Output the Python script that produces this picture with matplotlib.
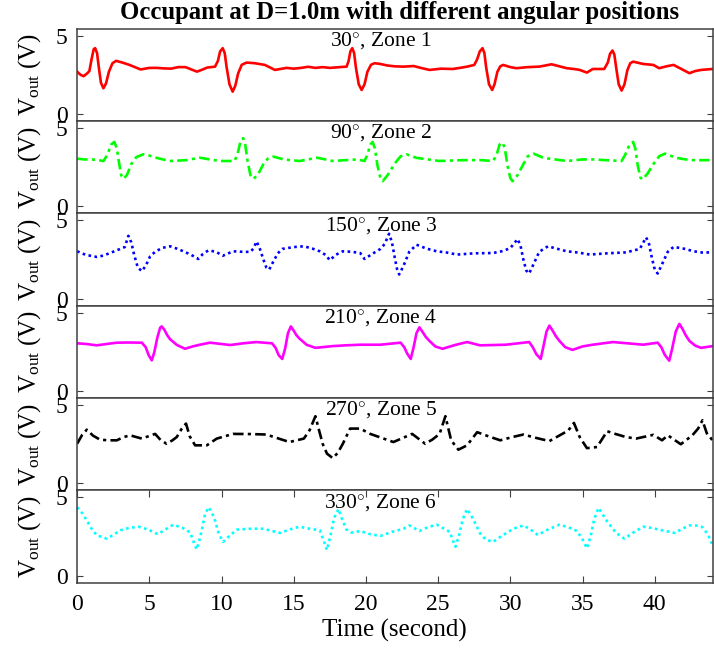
import numpy as np
import matplotlib
matplotlib.use("Agg")
import matplotlib.pyplot as plt

plt.rcParams["font.family"] = ["Liberation Serif", "DejaVu Serif"]
plt.rcParams["mathtext.fontset"] = "custom"
plt.rcParams["mathtext.rm"] = "Liberation Serif"
plt.rcParams["mathtext.it"] = "Liberation Serif:italic"

# --- data: (time s, Vout V) ---
zone1 = [(0, 2.71), (0.25, 2.5), (0.45, 2.42), (0.7, 2.6), (0.85, 2.75), (1.0, 3.5), (1.15, 4.15),
         (1.25, 4.21), (1.38, 3.9), (1.5, 3.0), (1.65, 2.0), (1.82, 1.65), (2.0, 1.95), (2.2, 2.7),
         (2.45, 3.25), (2.7, 3.40), (3.1, 3.3), (3.6, 3.15), (4.4, 2.85), (5.0, 2.95), (5.5, 2.95),
         (6.0, 2.92), (6.5, 2.9), (7.0, 3.0), (7.5, 3.0), (8.3, 2.71), (8.7, 2.85), (9.0, 2.97),
         (9.55, 3.03), (9.75, 3.4), (9.9, 4.0), (10.08, 4.21), (10.22, 3.9), (10.35, 3.0),
         (10.55, 1.9), (10.77, 1.43), (10.95, 1.8), (11.15, 2.6), (11.4, 3.15), (11.74, 3.29),
         (12.3, 3.25), (13.0, 3.14), (13.7, 2.82), (14.5, 2.95), (15.0, 2.9), (15.5, 2.95),
         (16.0, 3.02), (16.5, 2.95), (17.0, 3.0), (17.5, 2.95), (18.2, 3.0), (18.66, 3.03),
         (18.8, 3.4), (18.92, 4.0), (19.05, 4.21), (19.18, 3.9), (19.3, 3.0), (19.5, 1.9),
         (19.7, 1.54), (19.9, 1.9), (20.1, 2.7), (20.35, 3.15), (20.6, 3.25), (21.0, 3.2),
         (21.5, 3.1), (22.0, 3.05), (22.6, 3.03), (23.3, 3.07), (23.8, 2.95), (24.4, 2.82),
         (25.2, 2.9), (26.0, 2.88), (26.5, 2.95), (27.0, 3.03), (27.5, 3.14), (27.7, 3.5),
         (27.88, 4.0), (28.07, 4.21), (28.2, 3.9), (28.32, 3.0), (28.52, 1.9), (28.74, 1.54),
         (28.9, 1.9), (29.1, 2.7), (29.3, 3.05), (29.5, 3.14), (30.0, 3.0), (30.4, 2.93),
         (31.2, 3.0), (32.0, 3.03), (32.85, 3.18), (33.4, 3.05), (33.9, 2.93), (34.4, 2.88),
         (34.8, 2.82), (35.3, 2.65), (35.7, 2.88), (36.5, 2.88), (36.75, 3.3), (36.9, 3.85),
         (37.07, 4.06), (37.2, 3.8), (37.32, 3.0), (37.5, 1.9), (37.7, 1.5), (37.9, 1.9),
         (38.1, 2.8), (38.3, 3.25), (38.5, 3.35), (39.2, 3.2), (39.9, 3.14), (40.3, 2.93),
         (40.8, 3.05), (41.3, 3.14), (41.9, 2.85), (42.4, 2.61), (42.8, 2.75), (43.2, 2.82),
         (44.0, 2.88)]

zone2 = [(0, 3.05), (0.5, 3.0), (1.0, 3.0), (1.5, 2.95), (1.82, 2.9), (2.1, 3.3), (2.35, 3.95),
         (2.58, 4.12), (2.75, 3.7), (2.9, 2.8), (3.05, 2.0), (3.2, 1.76), (3.45, 2.0), (3.75, 2.7),
         (4.1, 3.15), (4.59, 3.33), (5.0, 3.25), (5.5, 3.1), (6.4, 2.9), (7.5, 2.95), (8.5, 3.11),
         (9.2, 3.0), (9.9, 2.9), (10.9, 2.9), (11.1, 3.3), (11.3, 4.1), (11.5, 4.36), (11.65, 3.9),
         (11.8, 2.9), (12.0, 2.0), (12.2, 1.76), (12.5, 2.0), (12.9, 2.7), (13.2, 3.05),
         (13.6, 3.18), (14.3, 3.0), (15.4, 2.9), (16.0, 3.0), (16.6, 3.11), (17.2, 3.0),
         (17.7, 2.9), (18.5, 2.95), (19.4, 3.0), (19.9, 2.9), (20.1, 3.3), (20.3, 3.95),
         (20.46, 4.12), (20.62, 3.7), (20.8, 2.6), (21.0, 1.8), (21.16, 1.61), (21.5, 2.0),
         (22.0, 2.75), (22.4, 3.2), (22.8, 3.33), (23.5, 3.1), (25.1, 2.9), (26.5, 2.95),
         (27.9, 2.96), (28.8, 2.9), (29.05, 3.3), (29.25, 3.95), (29.46, 4.08), (29.62, 3.7),
         (29.8, 2.6), (30.0, 1.8), (30.15, 1.61), (30.5, 2.0), (30.9, 2.7), (31.2, 3.2),
         (31.6, 3.37), (32.3, 3.1), (33.9, 2.9), (35.0, 3.0), (35.7, 3.0), (36.7, 2.95),
         (37.7, 2.9), (37.95, 3.3), (38.25, 3.95), (38.5, 4.12), (38.65, 3.7), (38.82, 2.6),
         (39.0, 1.85), (39.15, 1.72), (39.5, 2.1), (39.9, 2.7), (40.3, 3.2), (40.7, 3.37),
         (41.5, 3.1), (42.4, 2.96), (43.2, 2.95), (44, 2.96)]

zone3 = [(0, 3.03), (0.6, 2.8), (1.36, 2.67), (1.8, 2.75), (2.28, 2.92), (2.98, 3.18), (3.3, 3.3),
         (3.55, 4.02), (3.75, 3.6), (3.95, 2.8), (4.2, 2.0), (4.48, 1.76), (4.75, 2.1), (5.05, 2.7),
         (5.4, 3.0), (5.9, 3.25), (6.44, 3.35), (6.9, 3.2), (7.36, 3.03), (7.9, 2.8), (8.39, 2.54),
         (8.7, 2.85), (9.09, 3.09), (9.6, 3.0), (10.1, 2.75), (10.8, 3.03), (11.4, 3.0),
         (12.0, 2.99), (12.2, 3.2), (12.43, 3.66), (12.65, 3.2), (12.9, 2.5), (13.1, 2.0),
         (13.3, 1.86), (13.6, 2.4), (13.9, 2.9), (14.2, 3.18), (15.0, 3.3), (15.7, 3.35),
         (16.3, 3.2), (16.8, 3.03), (17.2, 2.8), (17.5, 2.46), (17.9, 2.8), (18.4, 3.03),
         (19.0, 3.0), (19.6, 2.92), (19.9, 2.54), (20.5, 2.9), (21.0, 3.18), (21.3, 3.5),
         (21.6, 4.15), (21.8, 3.6), (22.0, 2.6), (22.15, 1.9), (22.3, 1.55), (22.6, 2.1),
         (23.0, 3.0), (23.5, 3.45), (24.2, 3.2), (24.9, 3.03), (25.6, 2.95), (26.3, 2.82),
         (27.5, 2.9), (28.8, 2.92), (29.5, 3.05), (30.0, 3.24), (30.5, 3.81), (30.7, 3.4),
         (30.9, 2.5), (31.1, 1.8), (31.3, 1.61), (31.6, 2.2), (32.0, 3.0), (32.6, 3.35),
         (33.2, 3.2), (33.9, 3.03), (34.7, 2.95), (35.5, 2.82), (36.7, 2.9), (38.0, 2.96),
         (38.96, 3.18), (39.4, 3.92), (39.6, 3.5), (39.8, 2.6), (40.0, 1.85), (40.2, 1.61),
         (40.5, 2.2), (40.9, 3.0), (41.3, 3.31), (42.0, 3.2), (42.7, 3.03), (43.3, 2.95),
         (44, 2.96)]

zone4 = [(0, 3.05), (0.7, 3.0), (1.36, 2.92), (2.0, 3.0), (2.75, 3.09), (3.6, 3.1), (4.48, 3.09),
         (4.75, 2.8), (4.95, 2.3), (5.17, 1.96), (5.35, 2.5), (5.55, 3.4), (5.75, 4.05),
         (5.86, 4.13), (6.05, 3.9), (6.25, 3.55), (6.44, 3.31), (6.9, 2.95), (7.47, 2.7),
         (8.0, 2.85), (8.5, 2.96), (9.2, 3.09), (10.6, 2.94), (11.5, 3.05), (12.4, 3.13),
         (13.5, 3.05), (13.75, 2.75), (13.95, 2.3), (14.2, 2.05), (14.4, 2.7), (14.6, 3.7),
         (14.8, 4.13), (15.0, 3.85), (15.2, 3.55), (15.4, 3.35), (15.9, 2.95), (16.5, 2.76),
         (17.7, 2.87), (18.6, 2.92), (19.6, 2.96), (21.0, 2.96), (22.4, 3.09), (22.65, 2.8),
         (22.85, 2.4), (23.1, 2.05), (23.3, 2.8), (23.5, 3.7), (23.7, 4.07), (23.9, 3.8),
         (24.15, 3.45), (24.4, 3.2), (24.8, 2.85), (25.3, 2.7), (26.2, 2.95), (27.0, 3.13),
         (27.9, 2.92), (29.7, 2.96), (31.3, 3.13), (31.55, 2.8), (31.8, 2.35), (32.1, 2.05),
         (32.3, 2.9), (32.5, 3.8), (32.7, 4.18), (32.9, 3.9), (33.15, 3.5), (33.4, 3.2),
         (33.8, 2.8), (34.3, 2.63), (35.0, 2.85), (35.7, 2.96), (37.1, 3.13), (38.1, 3.05),
         (39.2, 2.96), (40.2, 3.09), (40.45, 2.8), (40.7, 2.3), (41.0, 1.94), (41.2, 2.7),
         (41.45, 3.8), (41.7, 4.29), (41.9, 4.0), (42.15, 3.55), (42.4, 3.2), (42.8, 2.9),
         (43.2, 2.76), (44, 2.87)]

zone5 = [(0, 2.53), (0.35, 3.1), (0.67, 3.43), (1.1, 3.05), (1.59, 2.79), (2.2, 2.75), (2.75, 2.75),
         (3.2, 2.95), (3.67, 3.07), (4.48, 2.86), (5.4, 3.16), (5.8, 2.75), (6.2, 2.53), (6.6, 2.75),
         (6.9, 2.96), (7.25, 3.5), (7.54, 3.82), (7.8, 3.0), (8.17, 2.43), (8.98, 2.43),
         (9.67, 2.86), (10.8, 3.16), (12.0, 3.15), (13.1, 3.12), (14.0, 2.85), (14.7, 2.64),
         (15.7, 2.86), (16.1, 3.4), (16.5, 4.29), (16.75, 3.4), (17.0, 2.53), (17.3, 1.9),
         (17.7, 1.61), (18.05, 1.95), (18.4, 2.53), (18.9, 3.5), (19.6, 3.5), (20.3, 3.16),
         (21.1, 2.9), (21.9, 2.64), (23.2, 3.16), (24.1, 2.53), (24.6, 2.8), (25.1, 3.16),
         (25.5, 4.29), (25.9, 2.75), (26.4, 2.15), (27.0, 2.43), (27.7, 3.27), (28.5, 3.0),
         (29.3, 2.75), (30.1, 2.95), (30.9, 3.12), (31.8, 2.9), (32.7, 2.7), (34.0, 3.37),
         (34.4, 3.86), (34.8, 2.96), (35.3, 2.25), (36.0, 2.32), (36.7, 3.33), (37.3, 3.15),
         (38.0, 2.96), (38.7, 2.86), (39.9, 3.1), (40.5, 2.75), (40.9, 3.07), (41.8, 2.5),
         (42.6, 3.07), (43.0, 3.5), (43.3, 4.03), (43.6, 3.2), (44, 2.75)]

zone6 = [(0, 4.37), (0.35, 4.0), (0.67, 3.53), (1.0, 3.0), (1.36, 2.58), (2.05, 2.37), (2.5, 2.6),
         (2.98, 2.9), (3.6, 3.05), (4.24, 3.13), (4.9, 2.95), (5.6, 2.65), (6.1, 2.95), (6.66, 3.26),
         (7.3, 3.05), (7.82, 2.77), (8.05, 2.2), (8.28, 1.68), (8.45, 2.2), (8.63, 2.9), (8.85, 3.9),
         (9.09, 4.37), (9.3, 4.1), (9.55, 3.53), (9.8, 2.7), (10.1, 2.16), (10.5, 2.5),
         (11.05, 2.94), (12.0, 3.0), (12.9, 3.0), (14.05, 2.73), (14.7, 2.95), (15.4, 3.13),
         (16.1, 3.0), (16.8, 2.9), (17.05, 2.3), (17.3, 1.64), (17.55, 2.6), (17.8, 3.7),
         (18.1, 4.26), (18.35, 3.6), (18.65, 2.95), (19.0, 2.75), (19.6, 2.85), (20.3, 2.65),
         (21.0, 2.54), (21.8, 2.8), (22.6, 3.0), (23.0, 3.21), (23.7, 2.86), (24.3, 3.1),
         (24.9, 3.26), (25.8, 2.8), (26.0, 2.3), (26.2, 1.85), (26.45, 2.6), (26.7, 3.6),
         (27.0, 4.26), (27.25, 3.9), (27.5, 3.47), (27.9, 2.7), (28.3, 2.3), (28.8, 2.16),
         (29.5, 2.6), (30.2, 3.0), (30.9, 3.21), (31.4, 2.95), (31.9, 2.6), (32.6, 2.95),
         (33.4, 3.26), (34.0, 3.1), (34.6, 2.86), (34.95, 2.4), (35.3, 1.75), (35.55, 2.5),
         (35.8, 3.6), (36.1, 4.33), (36.4, 3.9), (36.7, 3.47), (37.3, 2.75), (37.9, 2.37),
         (38.5, 2.75), (39.2, 3.13), (39.8, 3.05), (40.3, 2.94), (41.4, 2.73), (41.9, 3.0),
         (42.4, 3.21), (42.9, 3.2), (43.3, 3.1), (43.7, 2.6), (44, 1.94)]

titles = ["30$^{\\circ}$, Zone 1", "90$^{\\circ}$, Zone 2", "150$^{\\circ}$, Zone 3",
          "210$^{\\circ}$, Zone 4", "270$^{\\circ}$, Zone 5", "330$^{\\circ}$, Zone 6"]

series = [zone1, zone2, zone3, zone4, zone5, zone6]
colors = ["#ff0000", "#00ff00", "#0000ff", "#ff00ff", "#000000", "#00ffff"]
dashes = [None, (4, 1.6, 1.2, 1.6), (1, 1.3), None, (4, 1.6, 1.2, 1.6), (1, 1.3)]

fig, axes = plt.subplots(6, 1, figsize=(7.14, 6.54), dpi=100, sharex=True)
fig.subplots_adjust(left=0.108, right=0.998, top=0.956, bottom=0.109, hspace=0)

for i, ax in enumerate(axes):
    t, v = zip(*series[i])
    line, = ax.plot(t, v, color=colors[i], linewidth=1.9)
    if dashes[i] is not None:
        line.set_dashes(dashes[i])
    ax.set_xlim(0, 44)
    ax.set_ylim(-0.45, 5.45)
    ax.set_yticks([0, 5])
    ax.set_ylabel("V$_{\\mathrm{out}}$ (V)", fontsize=18)
    ax.yaxis.set_label_coords(-0.054, 0.5)
    ax.text(0.478, 0.985, titles[i], transform=ax.transAxes, ha="center", va="top",
            fontsize=15.5)
    for s in ax.spines.values():
        s.set_color("#404040")
        s.set_linewidth(1.1)
    ax.tick_params(axis="y", direction="in", right=True, labelsize=17, length=4,
                   color="#404040", pad=7)
    if i < 5:
        ax.tick_params(axis="x", bottom=False, labelbottom=False)
    else:
        ax.set_xticks(np.arange(0, 45, 5))
        ax.tick_params(axis="x", direction="in", top=True, labelsize=17, length=5,
                       color="#404040", pad=8)

axes[-1].set_xlabel("Time (second)", fontsize=18, labelpad=3)
fig.suptitle("Occupant at D=1.0m with different angular positions", fontsize=17.8,
             fontweight="bold", x=0.559, y=0.998)

fig.savefig("out.png", dpi=100)
